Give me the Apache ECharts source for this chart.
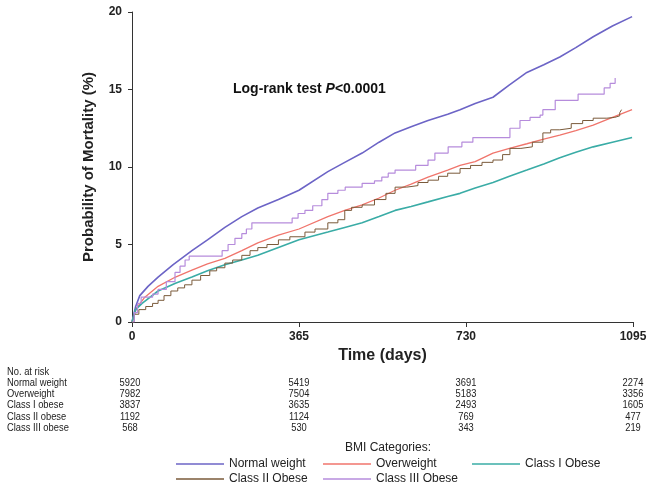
<!DOCTYPE html>
<html>
<head>
<meta charset="utf-8">
<script src="https://cdn.jsdelivr.net/npm/echarts@6/dist/echarts.min.js"></script>
<style>
  html, body { margin: 0; padding: 0; background: #fff; }
  #chart { width: 654px; height: 490px; }
</style>
</head>
<body>
<div id="chart"></div>
<script>
// cumulative mortality (%), [day, value]
const normalWeight = [[0,0],[8,1.0],[17,1.7],[35,2.3],[57,2.9],[90,3.7],[131,4.6],[165,5.3],[203,6.1],[240,6.8],[275,7.35],[320,7.9],[365,8.5],[428,9.7],[465,10.3],[503,10.9],[540,11.6],[575,12.2],[610,12.6],[647,13.0],[690,13.4],[717,13.7],[750,14.1],[789,14.5],[825,15.3],[863,16.1],[900,16.6],[935,17.1],[970,17.7],[1008,18.4],[1050,19.1],[1093,19.7]];
const overweight = [[0,0],[10,0.9],[28,1.6],[57,2.3],[95,2.9],[131,3.35],[165,3.75],[203,4.1],[240,4.6],[275,5.1],[320,5.6],[365,6.0],[428,6.8],[465,7.2],[503,7.55],[540,8.0],[575,8.5],[610,8.9],[647,9.35],[690,9.8],[717,10.1],[750,10.35],[789,10.9],[825,11.2],[863,11.5],[900,11.8],[935,12.05],[970,12.35],[1008,12.7],[1050,13.2],[1093,13.7]];
const classI = [[0,0],[8,0.8],[22,1.2],[57,2.0],[95,2.5],[131,2.9],[165,3.3],[203,3.7],[240,4.0],[275,4.3],[320,4.8],[365,5.3],[428,5.8],[465,6.1],[503,6.4],[540,6.8],[575,7.2],[610,7.45],[647,7.75],[690,8.1],[717,8.3],[750,8.65],[789,9.0],[825,9.4],[863,9.8],[900,10.2],[935,10.6],[970,10.95],[1008,11.3],[1050,11.6],[1093,11.9]];
const classII = [[0,0],[5,0.5],[15,0.8],[30,1.0],[45,1.2],[57,1.4],[70,1.7],[85,2.0],[100,2.2],[115,2.4],[131,2.7],[150,3.0],[170,3.3],[185,3.5],[203,3.8],[220,4.0],[240,4.3],[258,4.6],[275,4.8],[295,5.0],[320,5.3],[345,5.5],[378,5.8],[400,6.0],[428,6.4],[450,6.6],[465,7.2],[480,7.4],[503,7.55],[530,7.9],[555,8.3],[575,8.7],[600,8.8],[625,9.0],[647,9.15],[670,9.4],[690,9.6],[717,9.9],[740,10.1],[765,10.3],[789,10.45],[810,10.8],[826,11.2],[850,11.3],[875,11.6],[898,12.2],[915,12.4],[935,12.5],[960,12.8],[985,13.0],[1008,13.15],[1038,13.2],[1055,13.3],[1066,13.5],[1070,13.7]];
const classIII = [[0,0],[5,0.6],[12,1.2],[20,1.6],[45,1.8],[57,2.1],[75,2.6],[94,3.2],[105,3.6],[116,4.0],[125,4.25],[197,4.6],[210,5.0],[225,5.4],[240,5.7],[250,6.0],[262,6.4],[350,6.7],[363,7.0],[378,7.2],[395,7.5],[415,7.9],[428,8.3],[450,8.5],[466,8.7],[503,8.95],[530,9.1],[546,9.35],[560,9.6],[575,9.8],[620,10.1],[647,10.45],[662,10.9],[691,11.3],[721,11.6],[745,11.9],[826,12.5],[848,13.0],[870,13.2],[892,13.35],[898,13.7],[925,14.3],[975,14.7],[1032,15.1],[1045,15.4],[1056,15.75]];

const groupNames = ['Normal weight', 'Overweight', 'Class I Obese', 'Class II Obese', 'Class III Obese'];
const riskLabels = ['Normal weight', 'Overweight', 'Class I obese', 'Class II obese', 'Class III obese'];
const riskDays = [0, 365, 730, 1095];
const riskNormal = [5920, 5419, 3691, 2274];
const riskOver = [7982, 7504, 5183, 3356];
const riskClassI = [3837, 3635, 2493, 1605];
const riskClassII = [1192, 1124, 769, 477];
const riskClassIII = [568, 530, 343, 219];
const xTicks = [0, 365, 730, 1095];

const colors = ['#6c64c6', '#f0756c', '#3aaca6', '#7a5a3a', '#b68cdc'];
const font = 'Liberation Sans, Arial, sans-serif';

const chart = echarts.init(document.getElementById('chart'), null, { renderer: 'canvas' });

function line(name, data, color, width, step) {
  return {
    name: name, type: 'line', data: data, step: step || false,
    showSymbol: false, symbol: 'none', animation: false,
    lineStyle: { color: color, width: width },
    itemStyle: { color: color }
  };
}

const legendText = { fontFamily: font, fontSize: 12, color: '#222', lineHeight: 14 };
function legendCol(names, left) {
  return {
    data: names, orient: 'vertical', left: left, top: 457, height: 33, padding: 0,
    icon: 'rect', itemWidth: 48, itemHeight: 1.5, itemGap: 1,
    textStyle: legendText, selectedMode: false
  };
}

chart.setOption({
  animation: false,
  grid: { left: 132, right: 21, top: 12, bottom: 168 },
  xAxis: {
    type: 'value', min: 0, max: 1095, interval: 365,
    name: 'Time (days)', nameLocation: 'middle', nameGap: 24,
    nameTextStyle: { fontFamily: font, fontWeight: 'bold', fontSize: 16, color: '#222' },
    axisLine: { lineStyle: { color: '#333', width: 1 } },
    axisTick: { show: true, length: 5, lineStyle: { color: '#333' } },
    axisLabel: { fontFamily: font, fontWeight: 'bold', fontSize: 12, color: '#222', margin: 9,
      customValues: xTicks, formatter: function (v) { return String(v); } },
    splitLine: { show: false }
  },
  yAxis: {
    type: 'value', min: 0, max: 20, interval: 5,
    name: 'Probability of Mortality (%)', nameLocation: 'middle', nameGap: 36,
    nameTextStyle: { fontFamily: font, fontWeight: 'bold', fontSize: 15, color: '#222' },
    axisLine: { show: true, lineStyle: { color: '#333', width: 1 } },
    axisTick: { show: true, length: 4, lineStyle: { color: '#333' } },
    axisLabel: { fontFamily: font, fontWeight: 'bold', fontSize: 12, color: '#222', margin: 10 },
    splitLine: { show: false }
  },
  legend: [
    legendCol([groupNames[0], groupNames[3]], 176),
    legendCol([groupNames[1], groupNames[4]], 323),
    legendCol([groupNames[2]], 472)
  ],
  series: [
    line(groupNames[0], normalWeight, colors[0], 1.6),
    line(groupNames[1], overweight, colors[1], 1.3),
    line(groupNames[2], classI, colors[2], 1.6),
    line(groupNames[3], classII, colors[3], 1, 'end'),
    line(groupNames[4], classIII, colors[4], 1.2, 'end')
  ]
});

// number-at-risk table and annotations, placed with the x scale
const riskRows = [riskNormal, riskOver, riskClassI, riskClassII, riskClassIII];
const rowMid = [383, 394, 405, 416.5, 428];
const tableText = { fontFamily: font, fontSize: 11, fill: '#222', verticalAlign: 'middle' };
function tableCell(text, x, y, align) {
  return { type: 'text', x: x, y: y, scaleX: 0.85,
    style: Object.assign({ text: text, align: align }, tableText) };
}
const graphics = [
  { type: 'text', left: 233, top: 82, style: {
      rich: {
        a: { fontFamily: font, fontWeight: 'bold', fontSize: 14, fill: '#111' },
        b: { fontFamily: font, fontWeight: 'bold', fontStyle: 'italic', fontSize: 14, fill: '#111' }
      },
      text: '{a|Log-rank test }{b|P}{a|<0.0001}' } },
  tableCell('No. at risk', 7, 372, 'left'),
  { type: 'text', x: 388, y: 448, style: { text: 'BMI Categories:', fontFamily: font, fontSize: 12,
      fill: '#222', align: 'center', verticalAlign: 'middle' } }
];
riskRows.forEach(function (row, i) {
  graphics.push(tableCell(riskLabels[i], 7, rowMid[i], 'left'));
  row.forEach(function (n, j) {
    const x = chart.convertToPixel({ xAxisIndex: 0 }, riskDays[j]);
    graphics.push(tableCell(String(n), j === 0 ? x - 2 : x, rowMid[i], 'center'));
  });
});
chart.setOption({ graphic: graphics });
</script>
</body>
</html>
